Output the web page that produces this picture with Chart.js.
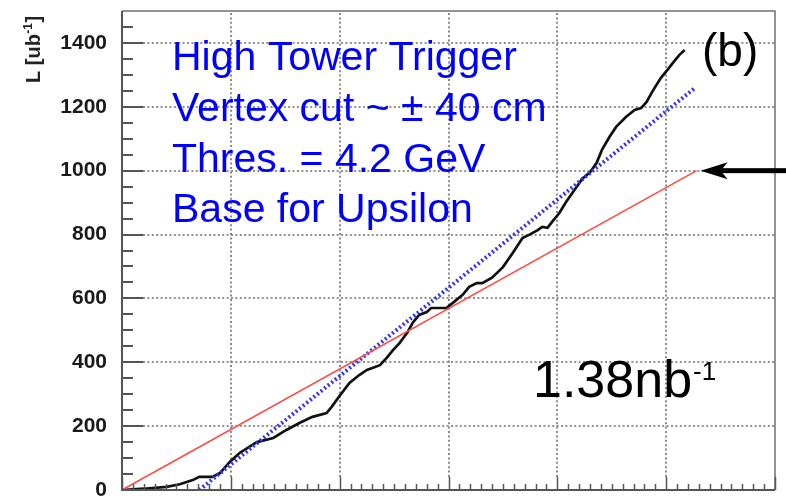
<!DOCTYPE html>
<html><head><meta charset="utf-8">
<style>html,body{margin:0;padding:0;background:#fff;overflow:hidden}#wrap{width:786px;height:496px;position:relative}</style>
<script src="https://cdn.jsdelivr.net/npm/chart.js@4.4.1/dist/chart.umd.min.js"></script>
</head><body><div id="wrap"><canvas id="c" width="786" height="496"></canvas></div>
<script>
// ---- data ----
const runX = [0, 2, 4.1, 5.3, 6.5, 7.1, 8.3, 9.0, 9.9, 10.8, 12.4, 13.9, 15.1, 16.3, 17.5, 18.8, 19.3, 20.0, 20.9, 21.8, 22.5, 23.0, 23.7, 24.3, 24.9, 25.5, 26.2, 26.7, 27.3, 28.0, 28.4, 29.8, 30.4, 31.3, 31.9, 32.6, 33.1, 34.0, 35.0, 35.9, 36.8, 37.4, 38.2, 38.6, 39.1, 39.5, 40.2, 40.8, 41.7, 42.3, 43.0, 43.6, 44.1, 44.8, 45.4, 46.3, 47.1, 47.7, 48.2, 48.7, 49.5, 50.1, 50.6, 51.2, 51.7];
const lumiY = [0, 4, 10, 18, 31, 41, 41, 53, 88, 116, 150, 163, 188, 210, 229, 241, 262, 295, 335, 360, 376, 382, 391, 413, 438, 460, 492, 523, 548, 557, 570, 570, 586, 611, 636, 648, 648, 665, 698, 742, 789, 799, 814, 824, 821, 839, 868, 902, 946, 975, 995, 1024, 1065, 1106, 1137, 1168, 1190, 1196, 1215, 1246, 1290, 1315, 1337, 1362, 1378];
const fitX = [7.1, 52.6];
const fitY = [0, 1258];
const goalX = [0, 52.8];
const goalY = [0, 1000];
const yTicks = [0, 200, 400, 600, 800, 1000, 1200, 1400];
const yMinorStep = 50;
const xMajorTicks = [0, 10, 20, 30, 40, 50, 60];
const xMinorStep = 1;
const infoLines = ["High Tower Trigger", "Vertex cut ~ \u00B1 40 cm", "Thres. = 4.2 GeV", "Base for Upsilon"];
const panelLabel = "(b)";
const totalLabel = "1.38nb";
const totalSup = "-1";
const arrowValue = 1000;

const pts = (xs, ys) => xs.map((v, i) => ({x: v, y: ys[i]}));

const FONT = '"Liberation Sans", Arial, Helvetica, sans-serif';

function drawGrid(chart) {
  const {ctx, chartArea: a, scales: {x, y}} = chart;
  ctx.save();
  ctx.strokeStyle = '#6e6e6e';
  ctx.lineWidth = 1.6;
  ctx.setLineDash([2, 2.4]);
  for (const v of yTicks) {
    if (v === 0) continue;
    const py = Math.round(y.getPixelForValue(v));
    ctx.beginPath(); ctx.moveTo(a.left + 21, py); ctx.lineTo(a.right, py); ctx.stroke();
  }
  for (const v of xMajorTicks) {
    if (v === xMajorTicks[0] || v === xMajorTicks[xMajorTicks.length - 1]) continue;
    const px = Math.round(x.getPixelForValue(v));
    ctx.beginPath(); ctx.moveTo(px, a.bottom - 13); ctx.lineTo(px, a.top); ctx.stroke();
  }
  ctx.restore();
}

const framePlugin = {
  id: 'frame',
  beforeDatasetsDraw(chart) { drawGrid(chart); },
  afterDatasetsDraw(chart) {
    const {ctx, chartArea: a, scales: {x, y}} = chart;
    ctx.save();
    ctx.setLineDash([]);
    ctx.strokeStyle = '#707070'; ctx.lineWidth = 1.5;
    ctx.beginPath(); ctx.moveTo(a.left, a.top); ctx.lineTo(a.right, a.top); ctx.lineTo(a.right, a.bottom); ctx.stroke();
    ctx.strokeStyle = '#555'; ctx.lineWidth = 2;
    ctx.beginPath(); ctx.moveTo(a.left, a.top); ctx.lineTo(a.left, a.bottom); ctx.lineTo(a.right, a.bottom); ctx.stroke();
    ctx.lineWidth = 2;
    for (let v = 0; v < y.max; v += yMinorStep) {
      const py = Math.round(y.getPixelForValue(v));
      const len = yTicks.includes(v) ? 21 : 11;
      ctx.beginPath(); ctx.moveTo(a.left, py); ctx.lineTo(a.left + len, py); ctx.stroke();
    }
    ctx.lineWidth = 1.5;
    for (let v = x.min; v <= x.max; v += xMinorStep) {
      const px = Math.round(x.getPixelForValue(v)) + 0.5;
      const len = xMajorTicks.includes(v) ? 13 : 6;
      ctx.beginPath(); ctx.moveTo(px, a.bottom); ctx.lineTo(px, a.bottom - len); ctx.stroke();
    }
    ctx.restore();
  },
  afterDraw(chart) {
    const {ctx, chartArea: a, scales: {x, y}} = chart;
    ctx.save();
    ctx.save();
    ctx.translate(40, 83);
    ctx.rotate(-Math.PI / 2);
    ctx.fillStyle = '#222';
    ctx.textAlign = 'left'; ctx.textBaseline = 'alphabetic';
    ctx.font = 'bold 20px ' + FONT;
    ctx.fillText('L [ub', 0, 0);
    let w = ctx.measureText('L [ub').width;
    ctx.font = 'bold 12px ' + FONT;
    ctx.fillText('-1', w + 0.5, -8);
    w += ctx.measureText('-1').width + 1;
    ctx.font = 'bold 20px ' + FONT;
    ctx.fillText(']', w, 0);
    ctx.restore();

    ctx.fillStyle = '#0000ff';
    ctx.font = '41px ' + FONT;
    ctx.textAlign = 'left'; ctx.textBaseline = 'alphabetic';
    const bases = [70, 121, 172, 222];
    infoLines.forEach((t, i) => ctx.fillText(t, 172, bases[i]));

    ctx.fillStyle = '#000';
    ctx.font = '46px ' + FONT;
    ctx.fillText(panelLabel, 702, 66);

    ctx.font = '52px ' + FONT;
    ctx.fillText(totalLabel, 533, 397);
    const tw = ctx.measureText(totalLabel).width;
    ctx.font = '26px ' + FONT;
    ctx.fillText(totalSup, 533 + tw + 1, 380);

    const tipX = x.getPixelForValue(goalX[1]) + 4;
    const py = y.getPixelForValue(arrowValue);
    ctx.fillStyle = '#000';
    ctx.fillRect(tipX + 18, py - 2.5, 786 - tipX - 18, 5);
    ctx.beginPath();
    ctx.moveTo(tipX, py);
    ctx.lineTo(tipX + 27, py - 8.5);
    ctx.lineTo(tipX + 20, py);
    ctx.lineTo(tipX + 27, py + 8.5);
    ctx.closePath();
    ctx.fill();
    ctx.restore();
  }
};

new Chart(document.getElementById('c'), {
  type: 'scatter',
  data: {
    datasets: [
      {data: pts(goalX, goalY), showLine: true, borderColor: '#ff4a4a', borderWidth: 1.6, pointRadius: 0, fill: false},
      {data: pts(fitX, fitY), showLine: true, borderColor: '#3434ee', borderWidth: 4, borderDash: [2, 2.6], pointRadius: 0, fill: false},
      {data: pts(runX, lumiY), showLine: true, borderColor: '#111', borderWidth: 2.7, pointRadius: 0, fill: false, tension: 0}
    ]
  },
  options: {
    responsive: false,
    animation: false,
    devicePixelRatio: 1,
    layout: {padding: {top: 11, right: 11, bottom: 6, left: 0}},
    plugins: {legend: {display: false}, tooltip: {enabled: false}, title: {display: false}},
    events: [],
    scales: {
      x: {
        type: 'linear', min: 0, max: 60,
        grid: {display: false}, border: {display: false},
        ticks: {display: false},
        afterFit: s => { s.height = 0; s.paddingLeft = 0; s.paddingRight = 0; }
      },
      y: {
        type: 'linear', min: 0, max: 1500,
        grid: {display: false}, border: {display: false},
        afterBuildTicks: s => { s.ticks = yTicks.map(v => ({value: v})); },
        ticks: {
          padding: 7, color: '#1a1a1a',
          font: {family: FONT, size: 21, weight: 'bold'},
          callback: v => String(v)
        },
        afterFit: s => { s.width = 122; s.paddingTop = 0; s.paddingBottom = 0; }
      }
    }
  },
  plugins: [framePlugin]
});
</script>
</body></html>
